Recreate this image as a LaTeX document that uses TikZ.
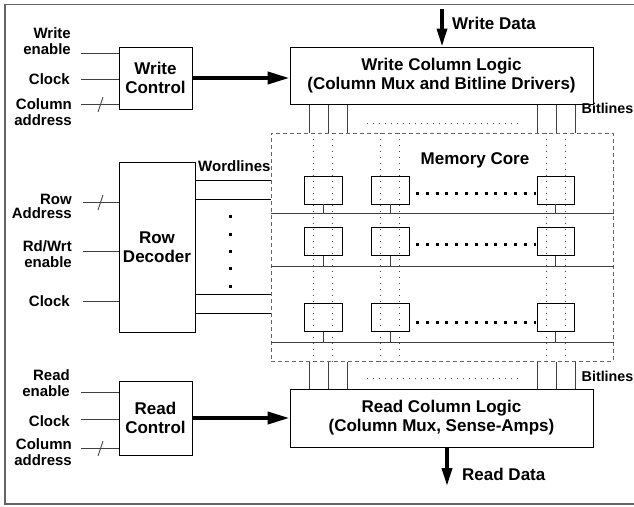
\documentclass[tikz,border=0pt]{standalone}
\usepackage{fontspec}
\setmainfont{Liberation Sans}
\usetikzlibrary{arrows.meta}
\begin{document}
\begin{tikzpicture}[x=1pt,y=-1pt,
  lbl/.style={font=\fontsize{15}{16}\selectfont\bfseries, inner sep=0pt, align=right, anchor=east},
  tag/.style={font=\fontsize{15}{16}\selectfont\bfseries, inner sep=0pt, anchor=west},
  big/.style={font=\fontsize{17}{19}\selectfont\bfseries, inner sep=0pt},
  blk/.style={draw=black, line width=1pt, align=center, font=\fontsize{17}{19}\selectfont\bfseries, inner sep=0pt},
  cell/.style={draw=black, line width=0.9pt, minimum width=38pt, minimum height=28pt, inner sep=0pt},
  wire/.style={draw=black!75, line width=0.9pt},
  bigarrow/.style={line width=4pt, -{Triangle[length=22pt,width=12pt]}},
  dataarrow/.style={line width=3.5pt, -{Triangle[length=18pt,width=10pt]}},
  corebox/.style={draw=black!60, line width=1pt, dash pattern=on 4pt off 3pt, inner sep=0pt},
  finedots/.style={draw=black!70, line width=0.8pt, dash pattern=on 1pt off 5pt},
  bigdots/.style={draw=black, line width=3pt, dash pattern=on 3pt off 6.8pt},
  frame/.style={draw=black!60, line width=1.5pt}
]
\useasboundingbox (0,0) rectangle (634,506);
\draw[frame] (634,4.5) -- (5,4.5) -- (5,504) -- (634,504);

% blocks
\node[blk, minimum width=73pt, minimum height=62pt] (wctl) at (155.5,78) {Write\\Control};
\node[blk, minimum width=303pt, minimum height=57pt] (wcl) at (441.5,75.5) {Write Column Logic\\(Column Mux and Bitline Drivers)};
\node[blk, minimum width=76pt, minimum height=170pt] (dec) at (157,247) {Row\\Decoder};
\node[blk, minimum width=73pt, minimum height=74pt] (rctl) at (155.5,418) {Read\\Control};
\node[blk, minimum width=303pt, minimum height=58pt] (rcl) at (441.5,418) {Read Column Logic\\(Column Mux, Sense-Amps)};
\node[corebox, minimum width=342pt, minimum height=228pt] (core) at (442,247) {};
\node[big] (mc) at (475,160) {Memory Core};

% input labels
\node[lbl] (l1) at (71,41) {Write\\enable};
\node[lbl] (l2) at (70,79) {Clock};
\node[lbl] (l3) at (72,112) {Column\\address};
\node[lbl] (l4) at (72,206) {Row\\[-2pt]Address};
\node[lbl] (l5) at (72,254.5) {Rd/Wrt\\enable};
\node[lbl] (l6) at (70,301) {Clock};
\node[lbl] (l7) at (70,383.5) {Read\\enable};
\node[lbl] (l8) at (70,421) {Clock};
\node[lbl] (l9) at (72,452.5) {Column\\address};

% input wires
\coordinate (i1) at (81,53);
\coordinate (i2) at (81,79);
\coordinate (i3) at (81,104);
\coordinate (i4) at (83,202);
\coordinate (i5) at (83,251);
\coordinate (i6) at (83,301);
\coordinate (i7) at (81,392);
\coordinate (i8) at (81,419);
\coordinate (i9) at (81,448);
\foreach \c in {i1,i2,i3} \draw[wire] (\c) -- (\c -| wctl.west);
\foreach \c in {i4,i5,i6} \draw[wire] (\c) -- (\c -| dec.west);
\foreach \c in {i7,i8,i9} \draw[wire] (\c) -- (\c -| rctl.west);
% bus slashes
\foreach \c/\d in {i3/0,i4/-2,i9/0}
  \draw[wire] ([shift={(22+\d,-7)}]\c) -- ([shift={(17+\d,8)}]\c);

% control arrows
\draw[bigarrow] (wctl.east) -- (wctl.east -| wcl.west);
\draw[bigarrow] (rctl.east) -- (rctl.east -| rcl.west);

% data arrows
\coordinate (wd) at (442,9);
\draw[dataarrow] (wd) -- (wd |- wcl.north);
\node[big, anchor=west] (wdl) at (452,23) {Write Data};
\coordinate (rd) at (447,486);
\draw[dataarrow] (rd |- rcl.south) -- (rd);
\node[big, anchor=west] (rdl) at (462,474) {Read Data};

% bitlines
\foreach \x in {309,328,347,537,556,575} {
  \draw[wire] (\x,0 |- wcl.south) -- (\x,0 |- core.north);
  \draw[wire] (\x,0 |- core.south) -- (\x,0 |- rcl.north);
}
\draw[finedots] (367,123) -- (520,123);
\draw[finedots] (367,378) -- (520,378);
\node[tag, font=\fontsize{14.3}{16}\selectfont\bfseries] (bl1) at (581.5,108) {Bitlines};
\node[tag, font=\fontsize{14.3}{16}\selectfont\bfseries] (bl2) at (581.5,376) {Bitlines};

% inner bitlines (dotted)
\foreach \x in {313,332,380,399,546,565}
  \draw[finedots] (\x,0 |- core.north) -- (\x,0 |- core.south);

% cells and row lines
\foreach \r/\y/\ry/\dy in {1/190/213/193, 2/241.5/266/244, 3/317.5/342/322} {
  \node[cell] (c\r a) at (323,\y) {};
  \node[cell] (c\r b) at (390,\y) {};
  \node[cell, minimum width=37pt] (c\r c) at (555.5,\y) {};
  \coordinate (row\r) at (0,\ry);
  \draw[wire] (row\r -| core.west) -- (row\r -| core.east);
  \foreach \k in {a,b,c} \draw[wire] (c\r\k.south) -- (c\r\k.south |- row\r);
  \draw[bigdots] (416,\dy) -- (536,\dy);
}

% wordlines
\foreach \y in {180,199,294,313} {
  \coordinate (w\y) at (0,\y);
  \draw[line width=0.9pt] (w\y -| dec.east) -- (w\y -| core.west);
}
\node[tag] (wl) at (198,166) {Wordlines};
\foreach \y in {216,234,251,268,286}
  \fill (228.5,\y-1.5) rectangle (231.5,\y+1.5);
\end{tikzpicture}
\end{document}
